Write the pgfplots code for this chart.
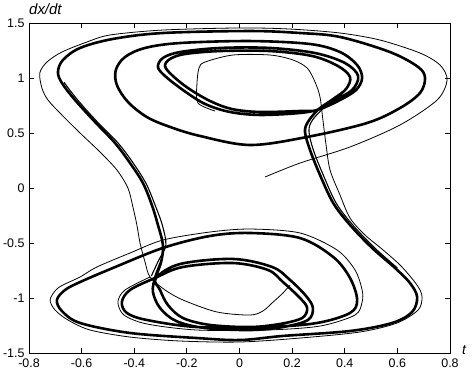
\documentclass[border=0pt]{standalone}
\usepackage{fontspec}
\setmainfont{Liberation Sans}
\usepackage{pgfplots}
\pgfplotsset{compat=1.18}
\begin{document}
\begin{tikzpicture}
\begin{axis}[
  scale only axis, width=421bp, height=330bp,
  xmin=-0.8, xmax=0.8, ymin=-1.5, ymax=1.5,
  xtick={-0.8,-0.6,-0.4,-0.2,0,0.2,0.4,0.6,0.8},
  ytick={-1.5,-1,-0.5,0,0.5,1,1.5},
  tick align=inside, tick pos=both, major tick length=5bp,
  axis line style={line width=1bp},
  every tick/.style={black, line width=0.8bp},
  /pgf/number format/assume math mode=true,
  ticklabel style={font=\fontsize{12.5}{14}\selectfont},
  xticklabel style={yshift=-2.5bp},
  yticklabel style={xshift=-1bp},
  xlabel={\textit{t}}, ylabel={\textit{dx/dt}},
  every axis x label/.style={at={(rel axis cs:1,0)}, anchor=south west, inner sep=0pt, xshift=12bp, yshift=-2bp, font=\fontsize{14}{15}\selectfont},
  every axis y label/.style={at={(rel axis cs:0,1)}, anchor=south west, inner sep=0pt, yshift=8bp, font=\fontsize{15}{16}\selectfont},
]
% main attractor trajectory
\addplot[black, line width=2.6bp, smooth, tension=0.55] coordinates {
(-0.321,-0.818) (-0.298,-0.673) (-0.291,-0.518) (-0.310,-0.336) (-0.333,-0.155)
(-0.367,0.045) (-0.416,0.227) (-0.473,0.409) (-0.549,0.600) (-0.625,0.800)
(-0.675,0.955) (-0.690,1.055) (-0.671,1.164) (-0.606,1.273) (-0.481,1.355)
(-0.291,1.409) (0.040,1.427) (0.230,1.409) (0.382,1.373) (0.572,1.236)
(0.679,1.100) (0.705,1.000) (0.686,0.864) (0.610,0.727) (0.485,0.591)
(0.257,0.464) (0.040,0.391) (-0.150,0.473) (-0.264,0.555) (-0.352,0.645)
(-0.424,0.782) (-0.466,0.936) (-0.470,1.073) (-0.435,1.191) (-0.359,1.273)
(-0.226,1.318) (0.040,1.336) (0.268,1.309) (0.382,1.236) (0.447,1.118)
(0.466,1.000) (0.443,0.891) (0.382,0.800) (0.306,0.718)
(0.230,0.682) (0.078,0.664) (-0.036,0.691) (-0.131,0.764) (-0.215,0.891)
(-0.283,1.018) (-0.310,1.100) (-0.291,1.182) (-0.226,1.236) (-0.074,1.273)
(0.116,1.273) (0.287,1.227) (0.401,1.136) (0.451,1.018) (0.428,0.891)
(0.363,0.800) (0.297,0.709)
(0.230,0.700) (0.078,0.691) (-0.029,0.718) (-0.112,0.791) (-0.196,0.909)
(-0.257,1.027) (-0.283,1.109) (-0.264,1.173) (-0.207,1.218) (-0.074,1.245)
(0.116,1.245) (0.276,1.200) (0.374,1.109) (0.420,1.009) (0.405,0.900)
(0.356,0.809) (0.300,0.715)
(0.260,0.600) (0.249,0.509) (0.268,0.345) (0.306,0.118) (0.356,-0.136)
(0.420,-0.336) (0.504,-0.545) (0.591,-0.727) (0.648,-0.864) (0.675,-0.991)
(0.656,-1.127) (0.580,-1.227) (0.420,-1.300) (0.165,-1.345) (0.002,-1.382)
(-0.162,-1.364) (-0.416,-1.318) (-0.606,-1.227) (-0.675,-1.118) (-0.694,-1.018)
(-0.663,-0.927) (-0.606,-0.855) (-0.481,-0.727) (-0.291,-0.545) (-0.112,-0.436)
(0.040,-0.409) (0.230,-0.455) (0.356,-0.627) (0.420,-0.818) (0.447,-1.018)
(0.420,-1.136) (0.295,-1.227) (0.105,-1.264) (-0.162,-1.264) (-0.352,-1.200)
(-0.428,-1.136) (-0.447,-1.036) (-0.416,-0.927) (-0.321,-0.818)
(-0.215,-0.718) (-0.025,-0.682) (0.108,-0.745) (0.165,-0.855) (0.230,-1.000)
(0.257,-1.091) (0.238,-1.182) (0.154,-1.236) (0.040,-1.264) (-0.112,-1.245)
(-0.215,-1.182) (-0.272,-1.064) (-0.302,-0.927) (-0.318,-0.820)
(-0.226,-0.691) (-0.025,-0.645) (0.124,-0.718) (0.192,-0.836) (0.253,-0.982)
(0.279,-1.091) (0.260,-1.200) (0.165,-1.264) (0.040,-1.291) (-0.131,-1.273)
(-0.241,-1.209) (-0.302,-1.091) (-0.329,-0.945) (-0.321,-0.818) (-0.298,-0.673)
};
% extra strands of the two crossing bundles
\addplot[black, line width=1.1bp, smooth, tension=0.55] coordinates {
(-0.335,-0.800) (-0.308,-0.660) (-0.280,-0.520) (-0.293,-0.340) (-0.320,-0.160)
(-0.355,0.040) (-0.405,0.230) (-0.462,0.410) (-0.540,0.600) (-0.615,0.800)
(-0.667,0.960)
};
\addplot[black, line width=1.1bp, smooth, tension=0.55] coordinates {
(0.325,0.740) (0.278,0.620) (0.264,0.520) (0.280,0.350) (0.318,0.120)
(0.368,-0.140) (0.432,-0.340) (0.514,-0.545) (0.600,-0.727)
};
% thin transient from the initial point
\addplot[black, line width=0.8bp, smooth, tension=0.5] coordinates {
(0.097,0.100) (0.230,0.227) (0.420,0.373) (0.610,0.573) (0.751,0.800)
(0.789,0.982) (0.762,1.118) (0.686,1.227) (0.534,1.345) (0.382,1.409)
(0.192,1.445) (0.002,1.455) (-0.291,1.436) (-0.492,1.391) (-0.580,1.327)
(-0.675,1.236) (-0.732,1.145) (-0.759,1.045) (-0.751,0.909) (-0.728,0.800)
(-0.675,0.664) (-0.606,0.500) (-0.530,0.327) (-0.466,0.164) (-0.424,0.000)
(-0.405,-0.173) (-0.390,-0.336) (-0.378,-0.500) (-0.359,-0.673) (-0.340,-0.809)
(-0.283,-0.927) (-0.215,-1.018) (-0.086,-1.127) (0.040,-1.155) (0.089,-1.118)
(0.124,-1.045) (0.165,-0.955) (0.192,-0.882)
};
% thin inner strand of the upper well running to the outer lower loops
\addplot[black, line width=0.8bp, smooth, tension=0.5] coordinates {
(-0.093,0.700) (-0.158,0.773) (-0.162,0.936) (-0.154,1.091) (-0.131,1.145)
(-0.025,1.209) (0.116,1.209) (0.203,1.164) (0.257,1.091) (0.287,0.964)
(0.306,0.827) (0.317,0.618) (0.329,0.391) (0.344,0.164) (0.382,-0.064)
(0.420,-0.273) (0.477,-0.427) (0.546,-0.564) (0.610,-0.700) (0.660,-0.836)
(0.686,-0.927) (0.694,-1.000) (0.679,-1.109) (0.599,-1.227) (0.458,-1.309)
(0.230,-1.364) (0.002,-1.400) (-0.226,-1.391) (-0.416,-1.355) (-0.568,-1.291)
(-0.652,-1.200) (-0.701,-1.109) (-0.720,-1.018) (-0.698,-0.927) (-0.671,-0.882)
(-0.606,-0.809) (-0.542,-0.718) (-0.416,-0.591) (-0.291,-0.473) (-0.112,-0.400)
(0.040,-0.373) (0.230,-0.409) (0.371,-0.564) (0.439,-0.745) (0.466,-0.927)
(0.466,-1.036) (0.439,-1.155) (0.306,-1.255) (0.105,-1.291) (-0.162,-1.291)
(-0.352,-1.236) (-0.439,-1.155) (-0.462,-1.036) (-0.435,-0.927) (-0.340,-0.809)
};
\end{axis}
\pgfresetboundingbox
\path (current axis.south west) +(-29bp,-20bp) (current axis.north east) +(23bp,23bp);
\end{tikzpicture}
\end{document}
